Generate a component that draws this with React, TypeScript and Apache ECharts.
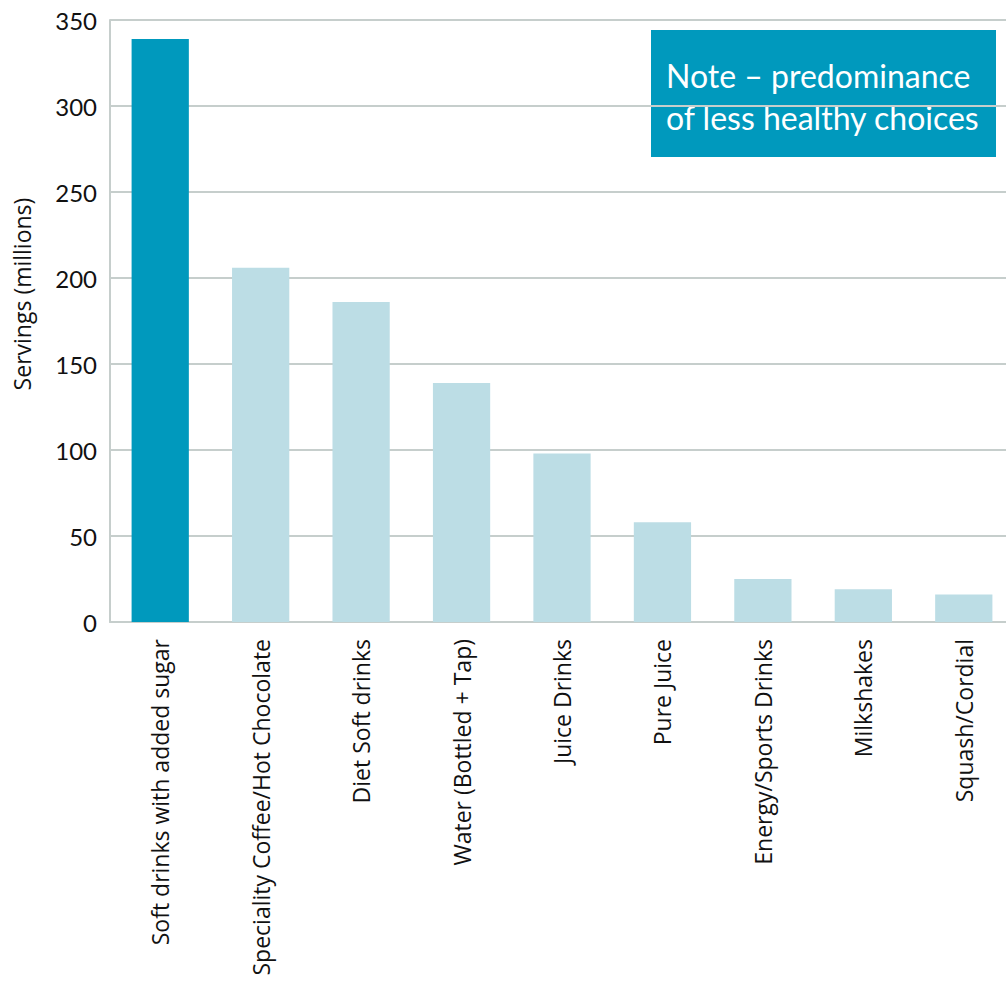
import React, { useEffect, useRef } from "react";
import * as echarts from "echarts";

const categories = [
  "Soft drinks with added sugar",
  "Speciality Coffee/Hot Chocolate",
  "Diet Soft drinks",
  "Water (Bottled + Tap)",
  "Juice Drinks",
  "Pure Juice",
  "Energy/Sports Drinks",
  "Milkshakes",
  "Squash/Cordial",
];
const servings = [339, 206, 186, 139, 98, 58, 25, 19, 16];
const highlightIndex = 0;
const yTicks = { min: 0, max: 350, interval: 50 };
const yAxisTitle = "Servings (millions)";
const noteLines = ["Note – predominance", "of less healthy choices"];

const DARK = "#0099bd";
const LIGHT = "#bcdde5";
const GRID = "#c6cecc";
const FONT = "Lato, 'Open Sans', sans-serif";
const FONT2 = "'Open Sans', Lato, sans-serif";

export default function App() {
  const ref = useRef<HTMLDivElement>(null);
  useEffect(() => {
    if (!ref.current) return;
    const chart = echarts.init(ref.current, null, { renderer: "svg" });
    chart.setOption({
      animation: false,
      textStyle: { fontFamily: FONT },
      grid: {
        left: 110,
        right: -8,
        top: 20,
        bottom: 359,
        containLabel: false,
        outerBoundsMode: "none",
      },
      xAxis: {
        type: "category",
        data: categories,
        axisLine: { lineStyle: { color: GRID, width: 2 } },
        axisTick: { show: false },
        axisLabel: {
          rotate: 90,
          margin: 17,
          fontSize: 23,
          color: "#111",
          fontFamily: FONT2,
          interval: 0,
        },
      },
      yAxis: {
        type: "value",
        min: yTicks.min,
        max: yTicks.max,
        interval: yTicks.interval,
        axisLine: { show: true, lineStyle: { color: GRID, width: 2 } },
        axisTick: { show: false },
        splitLine: { lineStyle: { color: GRID, width: 2 } },
        axisLabel: { fontSize: 24, color: "#111", margin: 13, fontFamily: FONT },
      },
      series: [
        {
          type: "bar",
          barCategoryGap: "43%",
          data: servings.map((v, i) => ({
            value: v,
            itemStyle: { color: i === highlightIndex ? DARK : LIGHT },
          })),
        },
      ],
      graphic: [
        {
          type: "text",
          x: 22,
          y: 294,
          rotation: Math.PI / 2,
          style: {
            text: yAxisTitle,
            fill: "#111",
            fontSize: 23,
            fontFamily: FONT2,
            align: "center",
            verticalAlign: "middle",
          },
        },
        {
          type: "group",
          left: 651,
          top: 30,
          children: [
            { type: "rect", shape: { x: 0, y: 0, width: 345, height: 127 }, style: { fill: DARK } },
            {
              type: "text",
              x: 15,
              y: 24,
              style: {
                text: noteLines.join("\n"),
                fill: "#fff",
                fontSize: 32,
                lineHeight: 42,
                fontFamily: FONT,
              },
            },
          ],
        },
      ],
    });
    return () => chart.dispose();
  }, []);
  return (
    <div
      ref={ref}
      style={{ position: "fixed", left: 0, top: 0, width: 1006, height: 981, background: "#fff" }}
    />
  );
}
